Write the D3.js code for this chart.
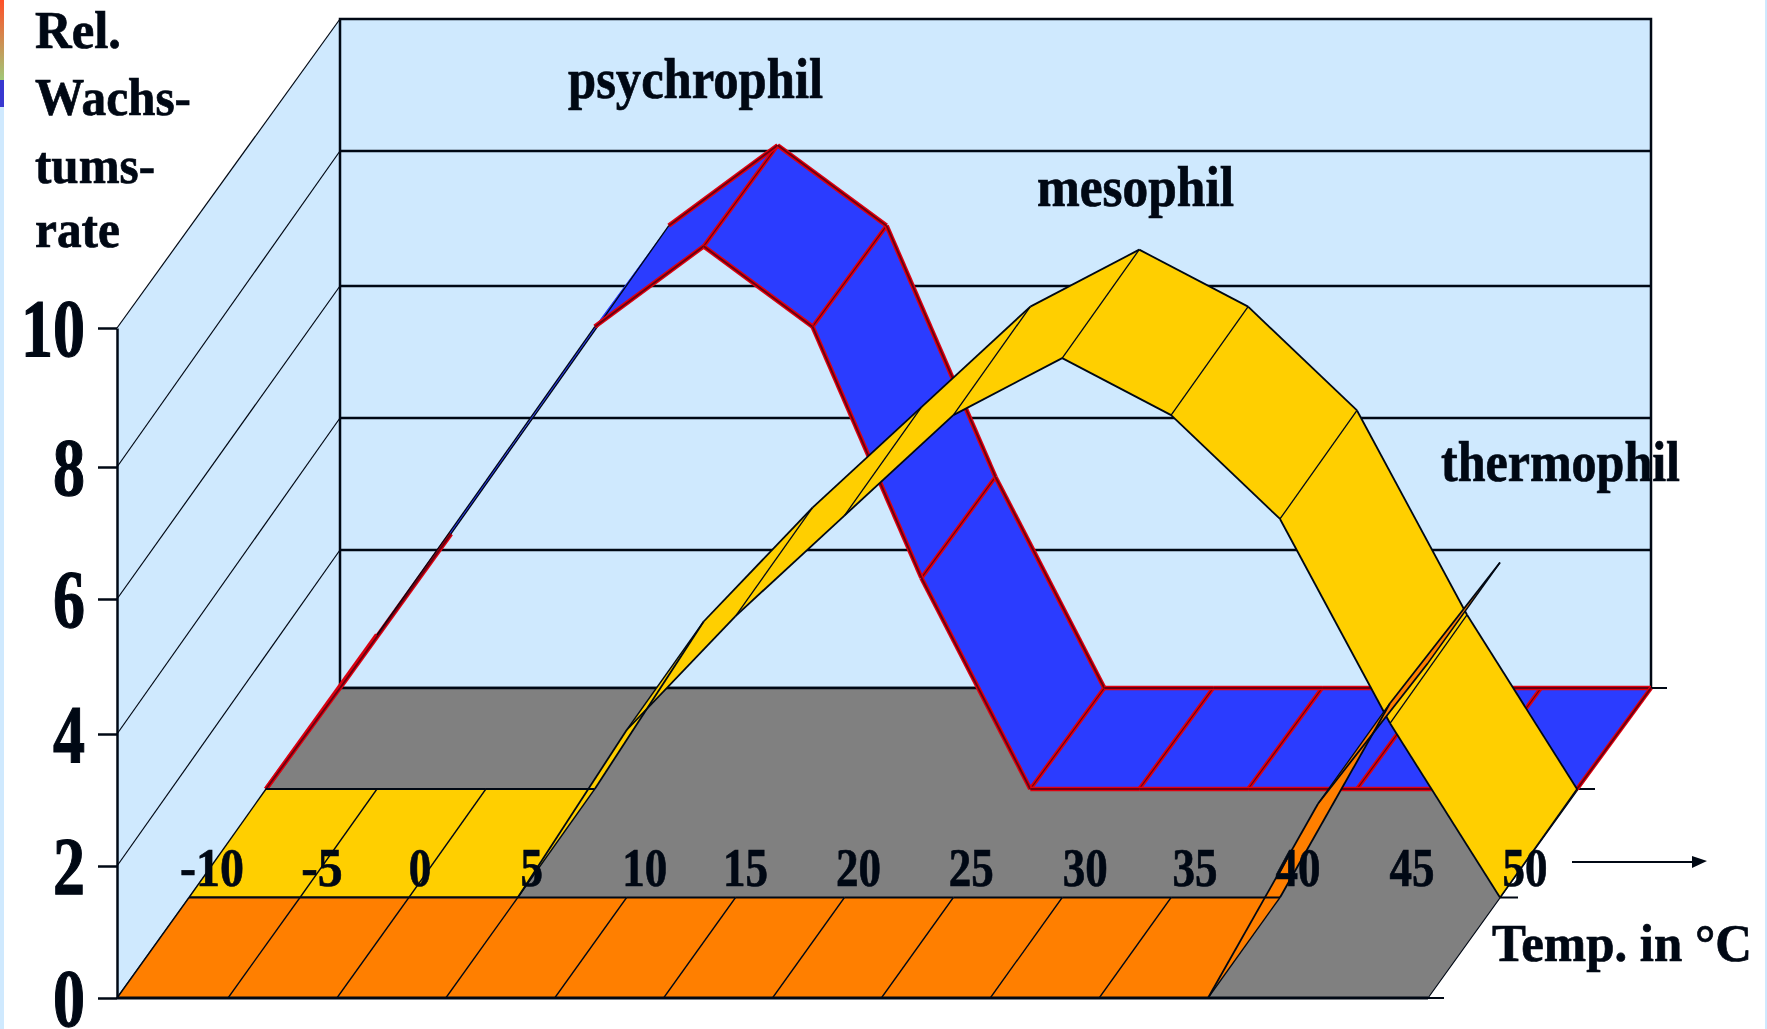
<!DOCTYPE html>
<html><head><meta charset="utf-8">
<style>html,body{margin:0;padding:0;background:#fff}svg{display:block}
text{font-family:"Liberation Serif","Times New Roman",serif;font-weight:bold;fill:#000814;stroke:#000814;stroke-width:.7px}</style>
<script src="https://cdn.jsdelivr.net/npm/d3@7"></script></head><body>
<svg id="c" width="1767" height="1029"></svg>
<script>
const categories = [-10,-5,0,5,10,15,20,25,30,35,40,45,50];
const psychrophil = [0,2.3,4.6,6.9,8.1,6.9,3.15,0,0,0,0,0,0];
const mesophil    = [0,0,0,0,2.5,4.2,5.7,7.2,8.05,7.2,5.65,2.6,0];
const thermophil  = [0,0,0,0,0,0,0,0,0,0,0,2.9,5];
const yTicks = [0,2,4,6,8,10];
const yTitle = ["Rel.","Wachs-","tums-","rate"];
const seriesNames = ["psychrophil","mesophil","thermophil"];
const xTitle = "Temp. in °C";

const INK="#000814", WALL="#cfe9fe", FLOOR="#808080";
const svg=d3.select("#c");
const x=d3.scaleLinear().domain([0,1,10,12]).range([117,228,1208,1428]);
const y=d3.scaleLinear().domain([0,10]).range([998,328]);
const yFront=d3.scaleLinear().domain(yTicks).range([998,866,734,599,467,328]);
const yBack=d3.scaleLinear().domain(yTicks).range([688,550,418,286,151,19]);
const dx=d3.scaleLinear().domain([0,1,2,3]).range([0,72,149,223]);
const dy=d3.scaleLinear().domain([0,1,2,3]).range([0,100.5,209,310]);
const P=(i,v,d)=>[x(i)+dx(d),y(v)-dy(d)];
const path=pts=>"M"+pts.map(p=>p.join(",")).join("L")+"Z";
const open=d3.line();
const stroke=(sel,pts,c,w)=>sel.append("path").attr("d",open(pts)).attr("stroke",c).attr("stroke-width",w).attr("fill","none");

// page edge strips
svg.append("rect").attr("x",0).attr("y",0).attr("width",4).attr("height",1029).attr("fill",WALL);
svg.append("rect").attr("x",1765).attr("y",0).attr("width",2).attr("height",1029).attr("fill",WALL);
const g0=svg.append("defs").append("linearGradient").attr("id","edge").attr("x1",0).attr("x2",0).attr("y1",0).attr("y2",1);
[[0,"#ff5028"],[0.75,"#a0c878"],[0.75,"#3838d0"],[1,"#3838d0"]].forEach(s=>g0.append("stop").attr("offset",s[0]).attr("stop-color",s[1]));
svg.append("rect").attr("x",0).attr("y",0).attr("width",4).attr("height",107).attr("fill","url(#edge)");

// walls
const xL=x(0), xB=x(0)+dx(3), xR=x(12)+dx(3);
svg.append("path").attr("d",path([[xL,yFront(0)],[xL,yFront(10)],[xB,yBack(10)],[xB,yBack(0)]])).attr("fill",WALL);
svg.append("path").attr("d",path([[xB,yBack(0)],[xB,yBack(10)],[xR,yBack(10)],[xR,yBack(0)]])).attr("fill",WALL).attr("stroke",INK).attr("stroke-width",2.5);
yTicks.filter(t=>t>0).forEach(t=>{
  stroke(svg,[[xL,yFront(t)],[xB,yBack(t)]],INK,1.2);
  if(t<10) stroke(svg,[[xB,yBack(t)],[xR,yBack(t)]],INK,2.5);
});
// floor
svg.append("path").attr("d",path([P(0,0,0),P(12,0,0),P(12,0,3),P(0,0,3)])).attr("fill",FLOOR).attr("stroke",INK).attr("stroke-width",1.2);
stroke(svg,[P(0,0,3),P(12,0,3)],INK,2.5);
[[0,16],[1,18],[2,18],[3,16]].forEach(([d,l])=>{const p=P(12,0,d);stroke(svg,[p,[p[0]+l,p[1]]],INK,2);});

// ribbons, back to front
function ribbon(vals,d0,fill,kind,edgeOn){
  const g=svg.append("g");
  const strips=d3.pairs(d3.range(vals.length));
  strips.forEach(([a,b])=>g.append("path")
    .attr("d",path([P(a,vals[a],d0),P(b,vals[b],d0),P(b,vals[b],d0+1),P(a,vals[a],d0+1)])).attr("fill",fill));
  const redLine=(pts,wide,core)=>{stroke(g,pts,"#e0000f",wide);stroke(g,pts,"#6a0010",core);};
  // cross ticks between strips
  d3.range(1,vals.length-1).forEach(i=>{
    if(edgeOn.includes(i)||edgeOn.includes(i-1)) return;
    const l=[P(i,vals[i],d0),P(i,vals[i],d0+1)];
    if(kind==="red") redLine(l,4.2,1.2); else stroke(g,l,INK,1.3);
  });
  // outer edges
  strips.forEach(([a,b],k)=>{
    [d0,d0+1].forEach(d=>{
      const l=[P(a,vals[a],d),P(b,vals[b],d)];
      if(edgeOn.includes(k)) stroke(g,l,INK,1.3);
      else if(kind==="red") redLine(l,4.6,1.9);
      else stroke(g,l,INK,1.8);
    });
  });
  [0,vals.length-1].forEach(i=>{
    const l=[P(i,vals[i],d0),P(i,vals[i],d0+1)];
    if(kind==="red") redLine(l,4.2,1.9); else stroke(g,l,INK,1.4);
  });
}
ribbon(psychrophil,2,"#2b3cff","red",[1,2]);
ribbon(mesophil,1,"#ffcf00","black",[]);
ribbon(thermophil,0,"#ff7f00","black",[]);
stroke(svg,[P(0,0,0),P(12,0,0)],INK,2.8);

// y axis
const ax=d3.axisLeft(yFront).tickValues(yTicks).tickSize(19).tickSizeOuter(0).tickPadding(13).tickFormat(d3.format("d"));
const axG=svg.append("g").attr("transform",`translate(${xL},0)`).call(ax);
axG.select(".domain").attr("stroke",INK).attr("stroke-width",2.5);
axG.selectAll(".tick line").attr("stroke",INK).attr("stroke-width",2.5);
axG.selectAll(".tick text").style("font-size","82px").style("stroke-width","1.2px")
   .attr("dy","0.33em").attr("lengthAdjust","spacingAndGlyphs").attr("textLength",d=>String(d).length*32);

// category labels (hand-placed offsets of the original slide)
const labelNudge=[9,8,-3,0,4,-4,0,4,9,10,4,8,11];
categories.forEach((c,i)=>{
  const w=String(Math.abs(c)).length*22.5+(c<0?19:0);
  svg.append("text").attr("x",x(i)+dx(1)+14+labelNudge[i]).attr("y",886).attr("text-anchor","middle")
    .style("font-size","54px").attr("lengthAdjust","spacingAndGlyphs").attr("textLength",w).text(c);
});
// titles
const label=(t,xp,yp,fs,w)=>svg.append("text").attr("x",xp).attr("y",yp).style("font-size",fs+"px")
   .attr("lengthAdjust","spacingAndGlyphs").attr("textLength",w).text(t);
[[48,86],[115,156],[183,120],[247,85]].forEach((a,i)=>label(yTitle[i],35,a[0],53,a[1]));
label(seriesNames[0],568,98,56,255);
label(seriesNames[1],1037,206,56,197);
label(seriesNames[2],1441,481,56,239);
label(xTitle,1492,961,53,260);
// arrow
stroke(svg,[[1572,862],[1700,862]],INK,2.2);
const ah=d3.path();ah.moveTo(1692,856);ah.lineTo(1707,861);ah.lineTo(1692,868);ah.closePath();
svg.append("path").attr("d",ah.toString()).attr("fill",INK);
</script></body></html>
